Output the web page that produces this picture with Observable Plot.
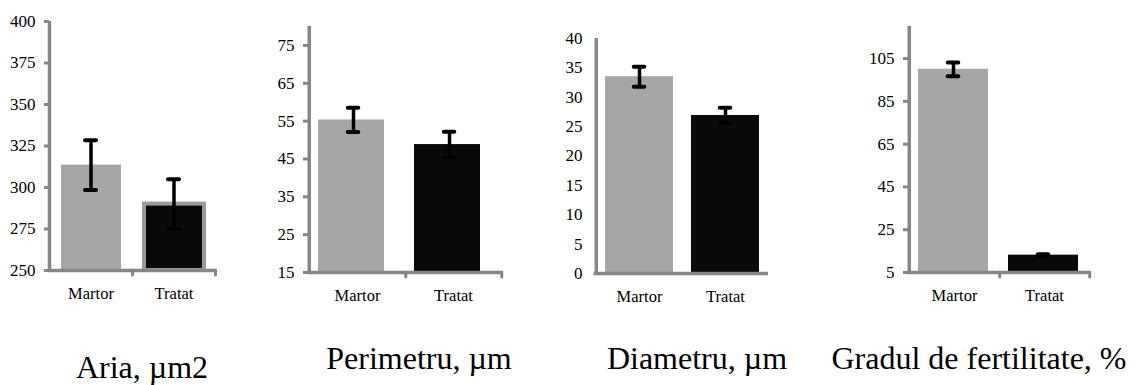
<!DOCTYPE html>
<html><head><meta charset="utf-8">
<script src="https://cdn.jsdelivr.net/npm/d3@7"></script>
<script src="https://cdn.jsdelivr.net/npm/@observablehq/plot@0.6"></script>
<style>
body{margin:0;background:#fff;}
#wrap{position:relative;width:1135px;height:385px;overflow:hidden;font-family:"Liberation Serif",serif;}
#wrap svg{position:absolute;top:0;overflow:visible;font-family:"Liberation Serif",serif !important;}
#wrap svg text{font-family:"Liberation Serif",serif !important;}
.title{position:absolute;font-size:32px;transform:translate(-50%,-50%);white-space:nowrap;line-height:1;color:#000;}
</style></head><body><div id="wrap"></div>
<script>
const categories = ["Martor", "Tratat"];
const titles = ["Aria, µm2", "Perimetru, µm", "Diametru, µm", "Gradul de fertilitate, %"];

const ariaMean = [313.5, 290];
const ariaErr = [15, 15];
const perimetruMean = [55.3, 48.8];
const perimetruErr = [3.2, 3.4];
const diametruMean = [33.5, 26.9];
const diametruErr = [1.7, 1.3];
const fertilitateMean = [100, 13.1];
const fertilitateErr = [3.2, 0.4];

const ariaTicks = [250, 275, 300, 325, 350, 375, 400];
const perimetruTicks = [15, 25, 35, 45, 55, 65, 75];
const diametruTicks = [0, 5, 10, 15, 20, 25, 30, 35, 40];
const fertilitateTicks = [5, 25, 45, 65, 85, 105];

const ariaDomain = [250, 400];
const perimetruDomain = [15, 80];
const diametruDomain = [0, 40];
const fertilitateDomain = [5, 120];

const barColors = ["#a6a6a6", "#0a0a0a"];
const axisColor = "#878787";
const serif = "'Liberation Serif', 'Times New Roman', serif";

const panels = [
  {mean: ariaMean, err: ariaErr, ticks: ariaTicks, domain: ariaDomain, title: titles[0],
   left: 0, ml: 49, pw: 166, mt: 21, bottom: 270, insL: 12, insR: 11, tickMarks: true, outline: true, titleX: 142, titleY: 367},
  {mean: perimetruMean, err: perimetruErr, ticks: perimetruTicks, domain: perimetruDomain, title: titles[1],
   left: 258, ml: 50, pw: 193, mt: 26, bottom: 272, insL: 9, insR: 21, errDx: -4, tickMarks: true, outline: false, titleX: 419, titleY: 358},
  {mean: diametruMean, err: diametruErr, ticks: diametruTicks, domain: diametruDomain, title: titles[2],
   left: 545, ml: 50, pw: 173, mt: 38, bottom: 273, insL: 9, insR: 9, tickMarks: false, outline: false, titleX: 697, titleY: 358},
  {mean: fertilitateMean, err: fertilitateErr, ticks: fertilitateTicks, domain: fertilitateDomain, title: titles[3],
   left: 858, ml: 50, pw: 181, mt: 26, bottom: 272, insL: 9, insR: 11, errDx: -1, tickMarks: true, outline: false, titleX: 979, titleY: 358}
];

const wrap = document.getElementById("wrap");

panels.forEach((p) => {
  const data = categories.map((c, i) => ({cat: c, v: p.mean[i], lo: p.mean[i] - p.err[i], hi: p.mean[i] + p.err[i]}));
  const mr = 12, mb = 34;
  const width = p.ml + p.pw + mr;
  const height = p.bottom + mb;
  const bw = p.pw / categories.length;
  const capHalf = 5.5;
  const errDx = p.errDx || 0;
  const marks = [
    Plot.barY(data, {x: "cat", y1: p.domain[0], y2: "v", fill: (d, i) => barColors[i],
      stroke: (d, i) => (p.outline && i === 1) ? "#9a9a9a" : "none", strokeWidth: 4,
      insetLeft: p.insL, insetRight: p.insR}),
    Plot.ruleX(data, {x: "cat", y1: "lo", y2: "hi", stroke: "#000", strokeWidth: 3.5, dx: errDx}),
    Plot.tickY(data, {x: "cat", y: "hi", stroke: "#000", strokeWidth: 4, strokeLinecap: "round",
      insetLeft: bw / 2 - capHalf + errDx, insetRight: bw / 2 - capHalf - errDx}),
    Plot.tickY(data, {x: "cat", y: "lo", stroke: "#000", strokeWidth: 4, strokeLinecap: "round",
      insetLeft: bw / 2 - capHalf + errDx, insetRight: bw / 2 - capHalf - errDx}),
    Plot.ruleY([p.domain[0]], {stroke: axisColor, strokeWidth: 3.5, insetLeft: -1.5}),
    Plot.ruleX([categories[0]], {x: (d) => d, dx: -bw / 2, stroke: axisColor, strokeWidth: 3.5, insetBottom: -1.5}),
    Plot.axisY({ticks: p.ticks, tickSize: p.tickMarks ? 5 : 0, tickPadding: p.tickMarks ? 9 : 13,
      stroke: axisColor, strokeWidth: 3, fontSize: 17, fontFamily: serif, fill: "#000"}),
    Plot.axisX({tickSize: 0, tickPadding: 17, fontSize: 16.5, fontFamily: serif, fill: "#000"})
  ];
  if (p.tickMarks) {
    marks.push(Plot.ruleX(categories, {x: (d) => d, dx: bw / 2, y1: p.domain[0], y2: p.domain[0],
      insetBottom: -5, stroke: axisColor, strokeWidth: 3, strokeLinecap: "round"}));
  }
  const chart = Plot.plot({
    width, height,
    marginLeft: p.ml, marginRight: mr, marginTop: p.mt, marginBottom: mb,
    style: {fontFamily: serif, fontSize: "16px", color: "#000", background: "transparent"},
    x: {domain: categories, padding: 0, label: null, axis: null},
    y: {domain: p.domain, label: null, axis: null},
    marks
  });
  chart.style.left = p.left + "px";
  wrap.appendChild(chart);
  const t = document.createElement("div");
  t.className = "title";
  t.textContent = p.title;
  t.style.left = p.titleX + "px";
  t.style.top = p.titleY + "px";
  wrap.appendChild(t);
});
</script>
</body></html>
